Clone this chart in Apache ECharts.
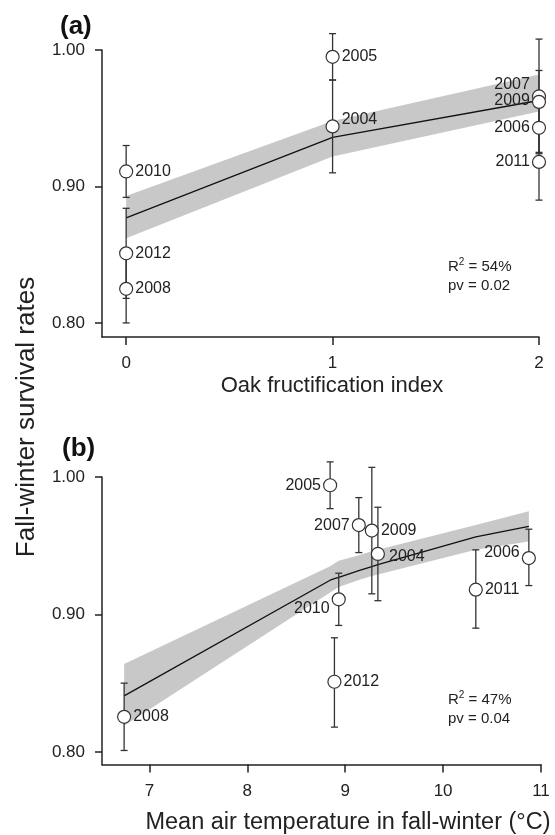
<!DOCTYPE html>
<html><head><meta charset="utf-8">
<script src="https://cdn.jsdelivr.net/npm/echarts@6/dist/echarts.min.js"></script>
<style>html,body{margin:0;padding:0;background:#fff}#c{width:555px;height:835px}</style>
</head><body><div id="c"></div>
<script>
// ---- Panel (a): survival vs oak fructification index ----
const yearsA   = ['2010','2012','2008','2005','2004','2007','2009','2006','2011'];
const oakIndex = [0, 0, 0, 1, 1, 2, 2, 2, 2];
const survA    = [0.911, 0.851, 0.825, 0.995, 0.944, 0.966, 0.962, 0.943, 0.918];
const errLowA  = [0.892, 0.818, 0.800, 0.978, 0.910, 0.924, 0.939, 0.925, 0.890];
const errHighA = [0.930, 0.884, 0.850, 1.012, 0.978, 1.008, 0.985, 0.960, 0.946];
const fitXA    = [0, 1, 2];
const fitA     = [0.877, 0.936, 0.963];
const bandLowA = [0.862, 0.922, 0.955];
const bandHighA= [0.893, 0.948, 0.982];
const xTicksA  = [0, 1, 2];

// ---- Panel (b): survival vs mean air temperature ----
const yearsB   = ['2008','2005','2007','2009','2004','2010','2012','2011','2006'];
const tempB    = [6.742, 8.846, 9.139, 9.272, 9.334, 8.934, 8.890, 10.334, 10.876];
const survB    = [0.8255, 0.994, 0.965, 0.961, 0.944, 0.911, 0.851, 0.918, 0.941];
const errLowB  = [0.801, 0.977, 0.945, 0.915, 0.910, 0.892, 0.818, 0.890, 0.921];
const errHighB = [0.850, 1.011, 0.985, 1.007, 0.978, 0.930, 0.883, 0.947, 0.962];
const fitXB    = [6.742, 8.846, 8.890, 8.934, 9.139, 9.272, 9.334, 10.334, 10.876];
const fitB     = [0.8407, 0.9249, 0.926, 0.927, 0.9319, 0.9348, 0.9362, 0.9564, 0.9641];
const bandLowB = [0.819, 0.916, 0.918, 0.920, 0.925, 0.928, 0.929, 0.947, 0.953];
const bandHighB= [0.864, 0.935, 0.937, 0.939, 0.943, 0.946, 0.947, 0.965, 0.975];
const xTicksB  = [7, 8, 9, 10, 11];

const yTicks = [0.80, 0.90, 1.00];

// label placement (style only)
const labA = {
  '2010':['right',[0,0]], '2012':['right',[0,0]], '2008':['right',[0,0]],
  '2005':['right',[0,0]], '2004':['right',[0,-7]], '2007':['left',[0,-12]],
  '2009':['left',[0,-1]], '2006':['left',[0,0]], '2011':['left',[0,0]]
};
const labB = {
  '2008':['right',[0,0]], '2005':['left',[0,0]], '2007':['left',[0,0]],
  '2009':['right',[0,0]], '2004':['right',[2,3]], '2010':['left',[0,9]],
  '2012':['right',[0,0]], '2011':['right',[0,0]], '2006':['left',[0,-5]]
};

const FONT = 'Liberation Sans, Arial, sans-serif';
const INK = '#222';

function errSeries(xs, lo, hi, idx) {
  return {
    type: 'custom', xAxisIndex: idx, yAxisIndex: idx, clip: false, z: 3,
    data: xs.map((x, i) => [x, lo[i], hi[i]]),
    renderItem: (params, api) => {
      const a = api.coord([api.value(0), api.value(1)]);
      const b = api.coord([api.value(0), api.value(2)]);
      const w = 3.5;
      const st = { stroke: '#333', lineWidth: 1.3 };
      return { type: 'group', children: [
        { type: 'line', shape: { x1: a[0], y1: a[1], x2: b[0], y2: b[1] }, style: st },
        { type: 'line', shape: { x1: a[0]-w, y1: a[1], x2: a[0]+w, y2: a[1] }, style: st },
        { type: 'line', shape: { x1: b[0]-w, y1: b[1], x2: b[0]+w, y2: b[1] }, style: st }
      ]};
    }
  };
}
function pointSeries(xs, ys, years, lab, idx) {
  return {
    type: 'scatter', xAxisIndex: idx, yAxisIndex: idx, symbol: 'circle', symbolSize: 13, z: 5,
    itemStyle: { color: '#fff', borderColor: '#333', borderWidth: 1.2, opacity: 1 },
    data: xs.map((x, i) => ({
      value: [x, ys[i]],
      label: { show: true, formatter: years[i], position: lab[years[i]][0], offset: lab[years[i]][1],
        distance: 2, color: INK, fontSize: 16, fontFamily: FONT }
    })),
    emphasis: { disabled: true }
  };
}
function bandSeries(xs, lo, hi, idx) {
  return {
    type: 'custom', xAxisIndex: idx, yAxisIndex: idx, z: 1, clip: false,
    data: xs.map((x, i) => [x, lo[i], hi[i]]),
    renderItem: (params, api) => {
      if (params.dataIndex !== 0) return null;
      const top = xs.map((x, i) => api.coord([x, hi[i]]));
      const bot = xs.map((x, i) => api.coord([x, lo[i]])).reverse();
      return { type: 'polygon', shape: { points: top.concat(bot) }, style: { fill: '#c8c8c8' } };
    }
  };
}
function fitSeries(xs, ys, idx) {
  return { type: 'line', xAxisIndex: idx, yAxisIndex: idx, symbol: 'none', z: 2,
    lineStyle: { color: '#111', width: 1.3 }, data: xs.map((x, i) => [x, ys[i]]) };
}
function xAx(min, max, ticks, idx) {
  return { type: 'value', gridIndex: idx, min, max,
    axisLine: { show: true, onZero: false, lineStyle: { color: INK, width: 1.5 } },
    axisTick: { show: true, customValues: ticks, length: 8, lineStyle: { color: INK, width: 1.5 } },
    axisLabel: { customValues: ticks, margin: 18, color: INK, fontSize: 17, fontFamily: FONT },
    splitLine: { show: false } };
}
function yAx(min, idx) {
  return { type: 'value', gridIndex: idx, min, max: 1.0,
    axisLine: { show: true, onZero: false, lineStyle: { color: INK, width: 1.5 } },
    axisTick: { show: true, customValues: yTicks, length: 7, lineStyle: { color: INK, width: 1.5 } },
    axisLabel: { customValues: yTicks, margin: 17, color: INK, fontSize: 17, fontFamily: FONT,
      formatter: v => v.toFixed(2) },
    splitLine: { show: false } };
}

const chart = echarts.init(document.getElementById('c'), null, { renderer: 'canvas' });
chart.setOption({
  animation: false,
  backgroundColor: '#fff',
  grid: [
    { left: 102, top: 50, width: 437, height: 287 },
    { left: 102, top: 477, width: 439, height: 287.5 }
  ],
  xAxis: [ xAx(-0.117, 2, xTicksA, 0), xAx(6.516, 11, xTicksB, 1) ],
  yAxis: [ yAx(0.7897, 0), yAx(0.7908, 1) ],
  series: [
    bandSeries(fitXA, bandLowA, bandHighA, 0),
    fitSeries(fitXA, fitA, 0),
    errSeries(oakIndex, errLowA, errHighA, 0),
    pointSeries(oakIndex, survA, yearsA, labA, 0),
    bandSeries(fitXB, bandLowB, bandHighB, 1),
    fitSeries(fitXB, fitB, 1),
    errSeries(tempB, errLowB, errHighB, 1),
    pointSeries(tempB, survB, yearsB, labB, 1)
  ],
  graphic: [
    { type: 'text', left: 60, top: 14, style: { text: '(a)', font: 'bold 26px ' + FONT, fill: '#111' } },
    { type: 'text', left: 62, top: 436, style: { text: '(b)', font: 'bold 26px ' + FONT, fill: '#111' } },
    { type: 'text', x: 332, y: 386, style: { text: 'Oak fructification index', font: '22px ' + FONT,
        fill: INK, align: 'center', verticalAlign: 'middle' } },
    { type: 'text', x: 348, y: 823, style: { text: 'Mean air temperature in fall-winter (°C)', font: '23.5px ' + FONT,
        fill: INK, align: 'center', verticalAlign: 'middle' } },
    { type: 'text', x: 27, y: 417, rotation: Math.PI / 2, style: { text: 'Fall-winter survival rates',
        font: '26px ' + FONT, fill: INK, align: 'center', verticalAlign: 'middle' } },
    { type: 'text', left: 448, top: 257, z: 10, style: { text: 'R{s|2} = 54%\npv = 0.02', font: '15px ' + FONT, fill: INK,
        lineHeight: 19, rich: { s: { fontSize: 10, verticalAlign: 'top', padding: [0, 0, 6, 0] } } } },
    { type: 'text', left: 448, top: 690, z: 10, style: { text: 'R{s|2} = 47%\npv = 0.04', font: '15px ' + FONT, fill: INK,
        lineHeight: 19, rich: { s: { fontSize: 10, verticalAlign: 'top', padding: [0, 0, 6, 0] } } } }
  ]
});
</script></body></html>
